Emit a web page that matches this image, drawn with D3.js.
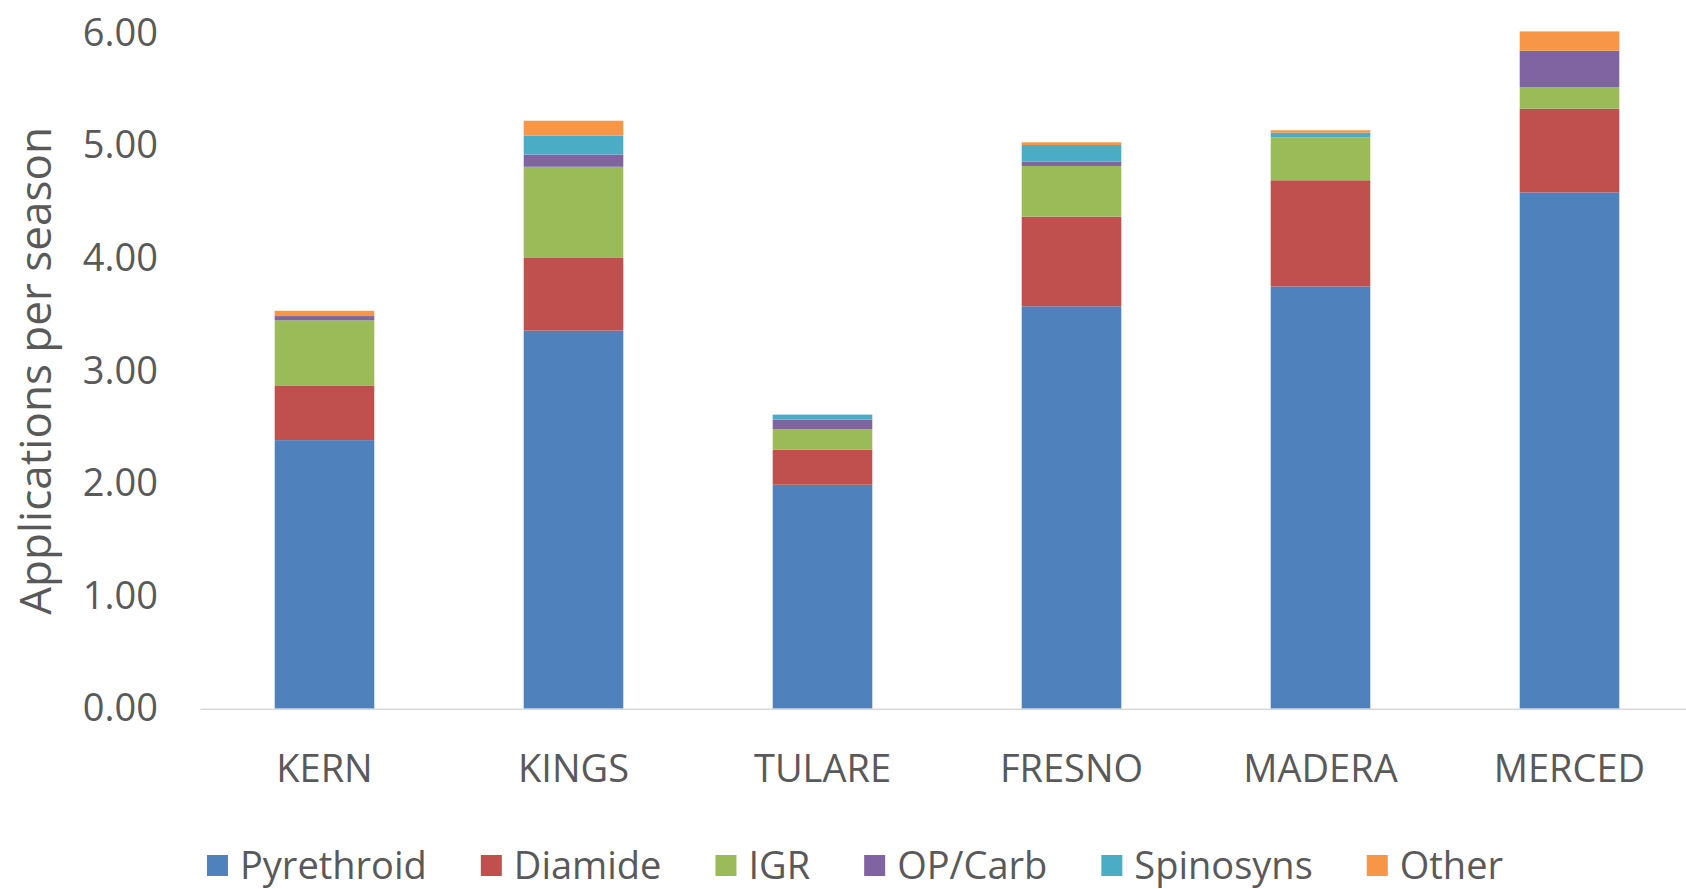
<!DOCTYPE html>
<html>
<head>
<meta charset="utf-8">
<script src="https://cdn.jsdelivr.net/npm/d3@7"></script>
<style>
  html, body { margin: 0; padding: 0; background: #ffffff; }
  svg { display: block; font-family: "Open Sans", "Noto Sans", sans-serif; }
</style>
</head>
<body>
<svg id="chart" width="1686" height="889"></svg>
<script>
// Counties along the x axis
const counties = ["KERN", "KINGS", "TULARE", "FRESNO", "MADERA", "MERCED"];

// Applications per season, by insecticide class (stacked bottom to top)
const pyrethroid = [2.385, 3.358, 1.989, 3.574, 3.750, 4.585];
const diamide    = [0.486, 0.650, 0.310, 0.796, 0.943, 0.745];
const igr        = [0.578, 0.805, 0.183, 0.450, 0.382, 0.190];
const opCarb     = [0.038, 0.108, 0.086, 0.038, 0.000, 0.323];
const spinosyns  = [0.000, 0.168, 0.044, 0.148, 0.041, 0.000];
const other      = [0.047, 0.133, 0.000, 0.024, 0.021, 0.172];

const seriesNames = ["Pyrethroid", "Diamide", "IGR", "OP/Carb", "Spinosyns", "Other"];
const seriesColors = ["#4F81BD", "#C0504D", "#9BBB59", "#8064A2", "#4BACC6", "#F79646"];

// Y axis tick values
const yTicks = [0, 1, 2, 3, 4, 5, 6];

const seriesValues = [pyrethroid, diamide, igr, opCarb, spinosyns, other];
const rows = counties.map((c, i) => {
  const r = { county: c };
  seriesNames.forEach((s, k) => { r[s] = seriesValues[k][i]; });
  return r;
});

const svg = d3.select("#chart");
const textColor = "#595959";

const x = d3.scaleBand()
  .domain(counties)
  .range([200, 1694])
  .paddingInner(0.6)
  .paddingOuter(0.3);

const y = d3.scaleLinear()
  .domain([0, 6])
  .range([708.7, 33.1]);

const color = d3.scaleOrdinal().domain(seriesNames).range(seriesColors);

const stacked = d3.stack().keys(seriesNames)(rows);

// Stacked bars
svg.append("g")
  .selectAll("g")
  .data(stacked)
  .join("g")
    .attr("fill", d => color(d.key))
  .selectAll("rect")
  .data(d => d)
  .join("rect")
    .attr("x", d => x(d.data.county))
    .attr("width", x.bandwidth())
    .attr("y", d => y(d[1]))
    .attr("height", d => Math.max(0, y(d[0]) - y(d[1])));

// X axis (category labels and baseline)
const xAxis = svg.append("g")
  .attr("transform", `translate(0,${y(0)})`)
  .call(d3.axisBottom(x).tickSize(0).tickSizeOuter(0).tickPadding(46));
xAxis.select(".domain").attr("stroke", "#D9D9D9").attr("stroke-width", 1.6);
xAxis.selectAll("text")
  .attr("fill", textColor)
  .style("font-size", "38px")
  .style("font-family", "'Open Sans', sans-serif");

// Y axis (labels only)
const yAxis = svg.append("g")
  .attr("transform", "translate(200,0)")
  .call(d3.axisLeft(y).tickValues(yTicks).tickFormat(d3.format(".2f")).tickSize(0).tickPadding(42));
yAxis.select(".domain").remove();
yAxis.selectAll("text")
  .attr("fill", textColor)
  .style("font-size", "38px")
  .style("font-family", "'Open Sans', sans-serif");

// Y axis title
svg.append("text")
  .attr("transform", `translate(51,${(y(0) + y(6)) / 2}) rotate(-90)`)
  .attr("text-anchor", "middle")
  .attr("fill", textColor)
  .style("font-size", "44px")
  .text("Applications per season");

// Legend, centred below the plot
const legend = svg.append("g");
const markerSize = 21, markerGap = 12, itemGap = 54;
const items = legend.selectAll("g")
  .data(seriesNames)
  .join("g");
items.append("rect")
  .attr("width", markerSize)
  .attr("height", markerSize)
  .attr("y", 855)
  .attr("fill", d => color(d));
items.append("text")
  .attr("x", markerSize + markerGap)
  .attr("y", 879)
  .attr("fill", textColor)
  .style("font-size", "38px")
  .text(d => d);

let cursor = 0;
const offsets = [];
items.each(function () {
  offsets.push(cursor);
  const w = d3.select(this).select("text").node().getComputedTextLength();
  cursor += markerSize + markerGap + w + itemGap;
});
const totalWidth = cursor - itemGap;
const legendStart = 855 - totalWidth / 2;
items.attr("transform", (d, i) => `translate(${legendStart + offsets[i]},0)`);
</script>
</body>
</html>
